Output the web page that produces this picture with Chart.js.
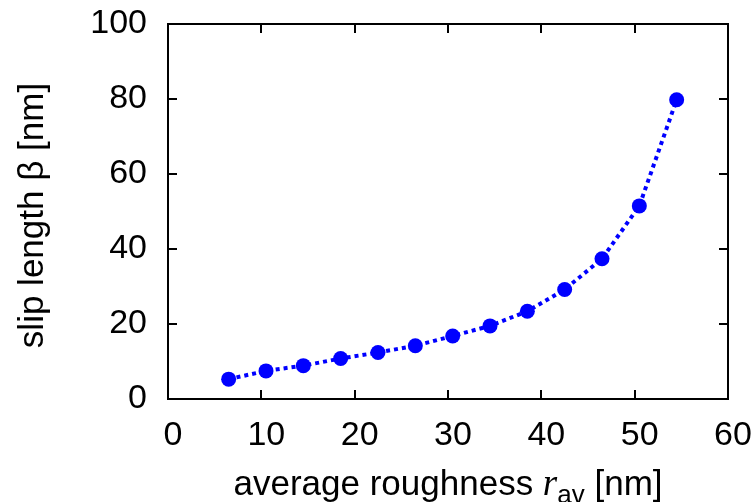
<!DOCTYPE html>
<html>
<head>
<meta charset="utf-8">
<script src="https://cdn.jsdelivr.net/npm/chart.js@4"></script>
<style>
  html, body { margin: 0; padding: 0; background: #fff; }
  #wrap { width: 754px; height: 502px; }
</style>
</head>
<body>
<div id="wrap"><canvas id="chart"></canvas></div>
<script>
const roughness = [6.5, 10.5, 14.5, 18.5, 22.5, 26.5, 30.5, 34.5, 38.5, 42.5, 46.5, 50.5, 54.5];
const slipLength = [5.3, 7.5, 8.9, 10.8, 12.4, 14.2, 16.8, 19.5, 23.4, 29.2, 37.4, 51.5, 79.8];
const xTicks = [0, 10, 20, 30, 40, 50, 60];
const yTicks = [0, 20, 40, 60, 80, 100];

const FONT = "'Liberation Sans', Arial, sans-serif";
const BLUE = '#0000ff';
const SIZE = 34;
const TITLE_SIZE = 35;

// gnuplot style frame: box all round, ticks pointing inward on all four sides
const frameTicks = {
    id: 'frameTicks',
    afterDraw(chart) {
        const { ctx, chartArea: { left, right, top, bottom } } = chart;
        const x = chart.scales.x, y = chart.scales.y;
        const len = 9;
        ctx.save();
        ctx.strokeStyle = '#000';
        ctx.lineWidth = 2;
        ctx.strokeRect(left, top, right - left, bottom - top);
        ctx.beginPath();
        xTicks.forEach(v => {
            const px = Math.round(x.getPixelForValue(v));
            ctx.moveTo(px, bottom); ctx.lineTo(px, bottom - len);
            ctx.moveTo(px, top); ctx.lineTo(px, top + len);
        });
        yTicks.forEach(v => {
            const py = Math.round(y.getPixelForValue(v));
            ctx.moveTo(left, py); ctx.lineTo(left + len, py);
            ctx.moveTo(right, py); ctx.lineTo(right - len, py);
        });
        ctx.stroke();
        ctx.restore();
    }
};

// axis titles, the x one has an italic r with subscript
const axisTitles = {
    id: 'axisTitles',
    afterDraw(chart) {
        const { ctx, chartArea: { left, right, top, bottom } } = chart;
        ctx.save();
        ctx.fillStyle = '#000';
        ctx.textBaseline = 'alphabetic';
        ctx.textAlign = 'left';

        const parts = [
            { t: 'average roughness ', f: TITLE_SIZE + 'px ' + FONT, dy: 0 },
            { t: 'r', f: 'italic 37px "Liberation Serif", "Times New Roman", serif', dy: 0 },
            { t: 'av', f: '26px ' + FONT, dy: 8 },
            { t: ' [nm]', f: TITLE_SIZE + 'px ' + FONT, dy: 0 }
        ];
        let total = 0;
        parts.forEach(p => { ctx.font = p.f; p.w = ctx.measureText(p.t).width; total += p.w; });
        let cx = (left + right) / 2 - total / 2;
        const base = 495;
        parts.forEach(p => {
            ctx.font = p.f;
            ctx.fillText(p.t, cx, base + p.dy);
            cx += p.w;
        });

        ctx.translate(43, (top + bottom) / 2 + 4);
        ctx.rotate(-Math.PI / 2);
        ctx.textAlign = 'center';
        ctx.font = TITLE_SIZE + 'px ' + FONT;
        ctx.fillText('slip length \u03b2 [nm]', 0, 0);
        ctx.restore();
    }
};

new Chart(document.getElementById('chart'), {
    type: 'scatter',
    data: {
        datasets: [{
            data: roughness.map((r, i) => ({ x: r, y: slipLength[i] })),
            showLine: true,
            borderColor: BLUE,
            backgroundColor: BLUE,
            borderWidth: 4,
            borderDash: [4, 4],
            pointRadius: 7.5,
            pointHoverRadius: 7.5,
            pointBorderWidth: 0,
            tension: 0
        }]
    },
    options: {
        responsive: true,
        maintainAspectRatio: false,
        animation: false,
        devicePixelRatio: 1,
        layout: { padding: { top: 24, right: 26, left: 0, bottom: 0 } },
        plugins: { legend: { display: false }, tooltip: { enabled: false } },
        scales: {
            x: {
                type: 'linear',
                min: 0, max: 60,
                afterBuildTicks: s => { s.ticks = xTicks.map(v => ({ value: v })); },
                afterFit: s => { s.height = 103; s.paddingLeft = 0; s.paddingRight = 0; },
                grid: { display: false, drawTicks: false },
                border: { display: false },
                ticks: { color: '#000', font: { family: FONT, size: SIZE }, padding: 16, labelOffset: 5, maxRotation: 0 }
            },
            y: {
                type: 'linear',
                min: 0, max: 100,
                afterBuildTicks: s => { s.ticks = yTicks.map(v => ({ value: v })); },
                afterFit: s => { s.width = 168; s.paddingTop = 0; s.paddingBottom = 0; },
                grid: { display: false, drawTicks: false },
                border: { display: false },
                ticks: { color: '#000', font: { family: FONT, size: SIZE }, padding: 21 }
            }
        }
    },
    plugins: [frameTicks, axisTitles]
});
</script>
</body>
</html>
